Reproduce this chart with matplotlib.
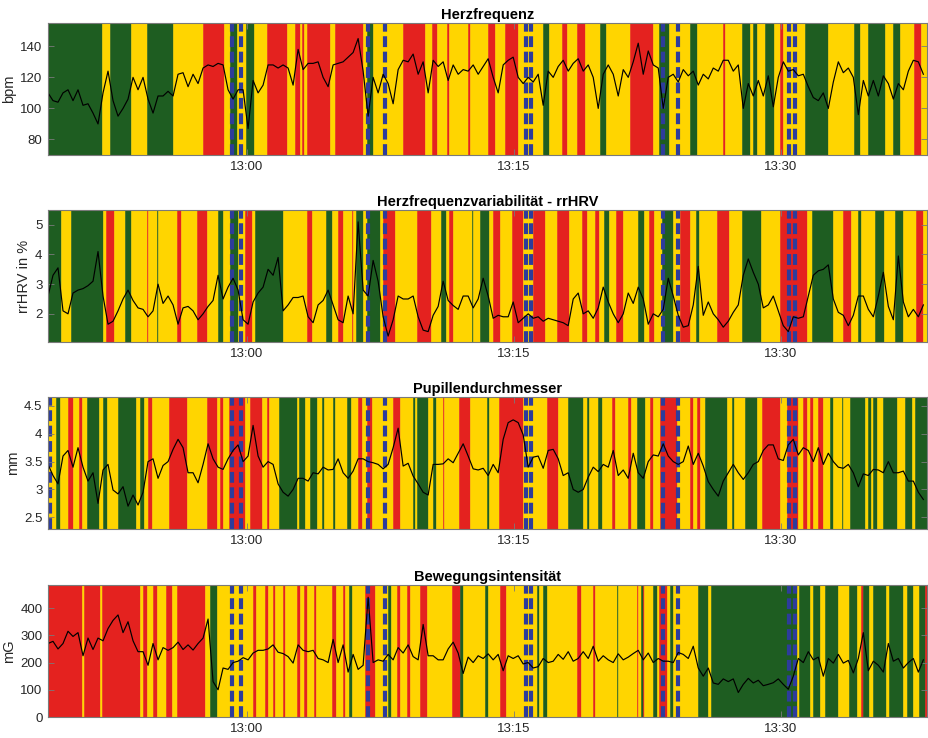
import numpy as np
import matplotlib
matplotlib.use("Agg")
import matplotlib.pyplot as plt

plt.rcParams['font.family'] = ['Liberation Sans', 'DejaVu Sans']

# ---------------- data ----------------
# time axis: minutes relative to 13:00
t_start_min = -11.18
sample_step_min = 0.281
x_range_min = (-11.18, 38.20)
tick_minutes = [0, 15, 30]
tick_labels = ["13:00", "13:15", "13:30"]

hr_bpm = [110,105,104,110,112,105,112,102,103,97, 90,110,124,105,95,100,106,120,112,120,
          106,97,108,108,111,108,122,123,114,122, 116,126,128,127,129,128,112,106,112,112,
          87,118,110,115,128,128,126,128,126,115, 138,125,129,129,130,120,114,128,129,130,
          133,136,145,124,95,120,110,122,116,103, 125,131,130,135,122,130,110,131,127,130,
          118,128,122,125,124,128,122,127,132,120, 110,128,131,133,120,116,120,117,122,102,
          124,120,127,131,124,129,132,124,128,120, 100,122,128,122,108,125,120,130,142,122,
          137,128,126,100,120,122,117,125,121,124, 115,122,119,126,124,131,131,124,128,100,
          116,108,118,108,121,101,120,130,124,125, 121,122,114,107,105,110,100,117,130,123,
          126,120,96,118,108,118,108,121,116,106, 116,112,124,131,130,122]

rrhrv_pct = [2.6,3.3,3.55,2.1,2.0,2.7,2.8,2.85,2.95,3.1, 4.1,2.6,1.65,1.75,2.1,2.5,2.8,2.45,2.2,2.15,
             1.9,2.1,3.0,2.35,2.6,2.3,1.65,2.2,2.25,2.1, 1.8,2.0,2.25,2.45,3.3,2.5,2.9,3.2,2.8,1.8,
             1.65,2.4,2.7,2.9,3.5,3.3,3.9,2.1,2.3,2.55, 2.55,2.6,1.9,1.7,2.3,2.45,2.8,2.3,1.8,1.7,
             2.6,2.0,5.1,2.8,2.6,3.8,3.1,1.9,1.25,1.8, 2.6,2.5,2.5,2.6,1.9,1.45,1.4,1.95,2.25,3.1,
             2.45,2.28,2.15,2.6,2.6,2.2,2.5,3.2,2.6,1.85, 1.95,1.9,1.9,2.4,1.7,1.85,2.0,1.85,1.9,1.75,
             1.85,1.8,1.75,1.7,1.6,2.5,2.7,2.0,2.1,1.85, 2.2,2.9,2.4,2.0,1.7,2.0,2.7,2.35,2.9,2.5,
             1.65,2.0,1.9,2.15,3.2,2.6,1.95,1.55,1.6,2.3, 3.6,1.95,2.4,2.0,1.8,1.55,1.75,2.05,2.3,3.3,
             3.85,3.4,3.0,2.2,2.3,2.6,2.1,1.6,1.4,1.9, 1.85,1.9,2.6,3.3,3.45,3.5,3.65,2.5,2.05,1.95,
             1.6,1.95,2.6,2.6,2.15,1.9,2.6,3.4,2.25,1.8, 3.95,2.4,1.9,2.15,1.9,2.3]

pupil_mm = [3.45,3.25,3.1,3.6,3.7,3.4,3.75,3.4,3.15,3.3, 2.75,3.35,3.45,2.99,2.92,3.05,2.7,2.9,2.72,2.95,
            3.5,3.55,3.2,3.43,3.5,3.72,3.9,3.75,3.3,3.3, 3.12,3.45,3.82,3.55,3.4,3.36,3.55,3.7,3.8,3.5,
            3.6,4.15,3.6,3.4,3.5,3.45,3.1,2.95,2.88,3.0, 3.2,3.2,3.15,3.3,3.28,3.4,3.35,3.36,3.55,3.3,
            3.2,3.33,3.55,3.55,3.5,3.48,3.45,3.37,3.45,3.75, 4.1,3.42,3.47,3.24,3.1,2.95,2.9,3.45,3.45,3.46,
            3.55,3.48,3.65,3.82,3.6,3.37,3.35,3.38,3.25,3.45, 3.3,3.9,4.2,4.25,4.2,3.98,3.4,3.58,3.6,3.38,
            3.7,3.72,3.55,3.25,3.3,3.0,2.95,3.0,3.22,3.4, 3.32,3.45,3.4,3.7,3.25,3.35,3.2,3.65,3.3,3.2,
            3.5,3.62,3.6,3.82,3.6,3.5,3.45,3.5,3.78,3.45, 3.65,3.42,3.14,3.0,2.88,3.15,3.3,3.45,3.3,3.18,
            3.3,3.45,3.5,3.7,3.8,3.8,3.55,3.52,3.8,3.9, 3.62,3.75,3.7,3.5,3.75,3.45,3.65,3.5,3.4,3.38,
            3.45,3.3,3.05,3.28,3.25,3.36,3.35,3.3,3.5,3.3, 3.3,3.33,3.15,3.15,2.95,2.82]

motion_mg = [270,278,250,270,315,296,310,225,290,248, 290,280,325,355,375,310,350,280,240,240,
             190,270,210,255,245,255,275,248,265,246, 270,290,360,130,100,180,175,200,205,218,
             210,235,245,245,250,265,238,233,222,198, 265,245,240,245,215,210,200,285,200,265,
             165,230,175,190,440,200,210,205,230,210, 255,235,265,222,210,340,225,225,210,210,
             250,275,235,160,220,200,225,215,232,210, 230,170,225,215,225,195,200,180,185,215,
             200,205,230,212,240,205,215,240,215,260, 205,225,210,200,232,210,220,233,245,210,
             235,200,215,205,205,200,237,230,215,260, 180,150,180,125,120,140,130,140,90,120,
             142,125,135,115,120,126,140,120,102,150, 215,200,240,210,220,150,215,198,230,198,
             208,162,215,310,170,205,190,165,270,205, 215,180,200,215,165,210]

# background state bands (edges in minutes rel. 13:00, G=green, Y=yellow, R=red)
hr_band_edges = [-11.18,-8.15,-7.70,-6.52,-5.62,-4.16,-2.47,-1.29,-0.96,-0.56,-0.06,0.39,1.12,2.25,2.70,
                 2.98,3.09,3.20,3.37,4.66,4.94,6.52,6.74,7.08,8.76,10.00,10.39,10.67,11.24,11.35,12.42,
                 12.53,13.54,13.93,14.49,15.22,16.63,16.97,17.70,17.98,18.54,18.99,19.83,20.17,21.52,
                 22.81,23.15,23.71,24.89,25.28,26.74,26.85,27.81,28.26,28.43,28.65,29.10,29.61,29.94,
                 30.11,31.35,32.64,34.10,34.44,34.89,35.84,36.29,36.69,37.47,37.87,38.20]
hr_band_states = ("GYGYGYRYGY" "GYRYRYRYRY" "RYGYRYRYRY" "RYRYRYGYRY"
                  "RYGYRYGYGY" "RYGYGYGYRY" "GYGYGYGYRY")

hrv_band_edges = [-11.18,-10.45,-9.89,-8.09,-7.92,-7.47,-6.85,-6.52,-5.62,-5.56,-5.06,-5.00,-3.93,-3.71,
                  -2.81,-2.25,-1.63,-1.35,-0.96,-0.51,-0.11,0.28,0.45,2.02,3.37,3.65,4.44,4.78,5.11,5.39,
                  5.90,5.96,6.12,6.52,6.74,7.47,7.64,8.31,9.55,10.34,10.90,11.18,11.35,11.57,12.64,12.70,
                  13.09,13.60,13.82,14.21,14.89,15.51,16.07,16.74,17.42,18.09,18.82,19.10,19.55,19.78,
                  20.06,20.34,20.73,21.12,21.97,22.30,22.58,22.87,23.31,23.93,24.33,24.89,25.22,25.39,
                  26.40,27.08,27.81,28.88,29.94,31.46,31.74,32.92,33.48,33.93,34.33,34.49,35.28,35.79,
                  36.40,36.85,37.58,37.98,38.20]
hrv_band_states = ("GYGYRYGYRY" "GYRYRYGYGY" "RYGYRYGYRY" "RYGYGYRYRY" "GYRYGYGYRY"
                   "RYRYRYRYRY" "GYRYGYRYGY" "RYGYRYGYRY" "GYRYGYGYGY" "RY")

pupil_band_edges = [-11.18,-10.73,-10.51,-10.06,-9.78,-9.44,-9.27,-8.99,-8.31,-8.09,-7.87,-7.25,-6.24,
                    -6.01,-5.79,-5.56,-5.34,-4.38,-3.37,-2.25,-1.69,-1.52,-1.35,-1.01,-0.11,0.17,0.84,
                    1.12,1.24,1.80,2.81,2.92,3.26,3.54,3.93,4.21,4.33,4.83,4.94,5.62,5.84,6.24,6.46,
                    6.74,7.02,8.20,8.60,9.33,9.44,9.55,10.17,10.45,10.62,11.01,11.07,11.91,12.53,13.48,
                    13.60,14.16,15.51,16.85,17.47,18.03,18.88,19.10,19.21,19.72,19.94,20.51,20.67,21.40,
                    21.57,21.91,22.36,22.64,22.81,23.20,24.16,24.89,25.06,25.28,25.45,25.73,26.97,27.25,
                    27.36,27.98,28.65,28.93,29.94,30.34,30.96,31.24,31.46,31.63,31.80,32.08,32.36,32.75,
                    32.92,33.43,33.48,33.88,34.72,34.89,35.06,35.17,35.39,35.73,36.52,36.97,37.36,37.53,
                    38.20]
pupil_band_states = ("YGYRYRYGYG" "YGYGYRYRYR" "YRYRYRYRYG" "YGYGYGYGYG" "YRYRYRYGYG"
                     "YGYRYRYGYR" "YRYGYGYGYR" "YRYGYRYRYR" "YRYGYGYGYR" "YRYRYRYRYG"
                     "YGYGYGYGYG" "YGYG")

motion_band_edges = [-11.18,-9.27,-9.16,-8.26,-8.15,-6.01,-5.84,-5.62,-5.28,-5.06,-4.55,-4.21,-3.93,
                     -2.36,-2.08,-1.69,0.34,0.51,1.01,1.18,1.46,1.57,2.02,2.13,2.81,2.98,3.20,3.37,
                     3.76,3.88,4.78,5.00,5.39,5.51,5.73,5.90,6.63,7.19,7.92,8.09,8.43,8.60,8.99,9.16,
                     9.72,10.11,11.52,11.97,12.13,13.37,13.54,14.21,14.55,16.29,16.40,16.63,16.85,18.54,
                     18.76,19.44,19.55,20.79,20.84,21.91,21.97,22.13,22.25,22.30,22.81,23.03,23.15,23.60,
                     23.76,23.93,25.34,25.90,26.07,30.90,31.01,31.63,31.80,32.19,32.47,33.20,33.82,34.27,
                     34.49,34.61,34.94,35.17,35.90,36.07,36.85,37.08,37.42,37.75,38.09,38.20]
motion_band_states = ("RYRYRYRYRY" "RYRYGYRYRY" "RYRYRYRYRY" "RYRYGYRYGY" "RYRYRYRGYG"
                      "YRYGYGYRYR" "YGYRYGRYGY" "RYGYGYGYGY" "GYGYGYRGYG" "YGYGYGR")

# marked events (minutes rel. 13:00), drawn as blue dashed markers in every panel
event_minutes = [-0.84, -0.35, 6.81, 7.75, 15.69, 15.96, 23.39, 24.23, 30.46, 30.79]
pupil_extra_events = [-11.08]

titles = ["Herzfrequenz", "Herzfrequenzvariabilität - rrHRV", "Pupillendurchmesser", "Bewegungsintensität"]
ylabels = ["bpm", "rrHRV in %", "mm", "mG"]
ylims = [(70, 155), (1.05, 5.5), (2.29, 4.66), (0, 485)]
yticks = [[80, 100, 120, 140], [2, 3, 4, 5], [2.5, 3, 3.5, 4, 4.5], [0, 100, 200, 300, 400]]
ytick_labels = [["80", "100", "120", "140"], ["2", "3", "4", "5"],
                ["2.5", "3", "3.5", "4", "4.5"], ["0", "100", "200", "300", "400"]]

# ---------------- styling ----------------
state_colors = {"G": "#1e5d21", "Y": "#ffd500", "R": "#e4221f"}
event_color = "#2d3c9b"
frame_color = "#7a7a7a"
text_color = "#262626"

series = [hr_bpm, rrhrv_pct, pupil_mm, motion_mg]
bands = [(hr_band_edges, hr_band_states), (hrv_band_edges, hrv_band_states),
         (pupil_band_edges, pupil_band_states), (motion_band_edges, motion_band_states)]
extra_events = [[], [], pupil_extra_events, []]

W, H = 929, 738
fig = plt.figure(figsize=(W / 100, H / 100), dpi=100)
ax_left, ax_right = 48 / W, 927 / W
tops = [23, 210, 397, 585]
ax_h = 132

for i in range(4):
    top = tops[i]
    ax = fig.add_axes([ax_left, 1 - (top + ax_h) / H, ax_right - ax_left, ax_h / H])
    edges, states = bands[i]
    assert len(edges) == len(states) + 1, (i, len(edges), len(states))
    for e0, e1, s in zip(edges[:-1], edges[1:], states):
        c = state_colors[s]
        ax.axvspan(e0, e1, facecolor=c, edgecolor=c, lw=0.4, zorder=0)
    for ev in event_minutes + extra_events[i]:
        ax.axvline(ev, color=event_color, lw=3.0, dashes=(2.6, 1.1), zorder=1)
    vals = np.asarray(series[i], dtype=float)
    t = t_start_min + sample_step_min * np.arange(len(vals))
    ax.plot(t, vals, color="black", lw=0.85, zorder=2)

    ax.set_xlim(*x_range_min)
    ax.set_ylim(*ylims[i])
    ax.set_xticks(tick_minutes)
    ax.set_xticklabels(tick_labels)
    ax.set_yticks(yticks[i])
    ax.set_yticklabels(ytick_labels[i])
    ax.tick_params(direction="in", length=4, width=0.6, top=True, right=True,
                   colors=frame_color, labelcolor=text_color, labelsize=9.5, pad=4)
    for sp in ax.spines.values():
        sp.set_color(frame_color)
        sp.set_linewidth(0.8)
    ax.set_title(titles[i], fontsize=10.5, fontweight="bold", color="black", pad=3)
    ax.set_ylabel(ylabels[i], fontsize=10.5, color=text_color, labelpad=3)

fig.savefig("out.png", dpi=100)
